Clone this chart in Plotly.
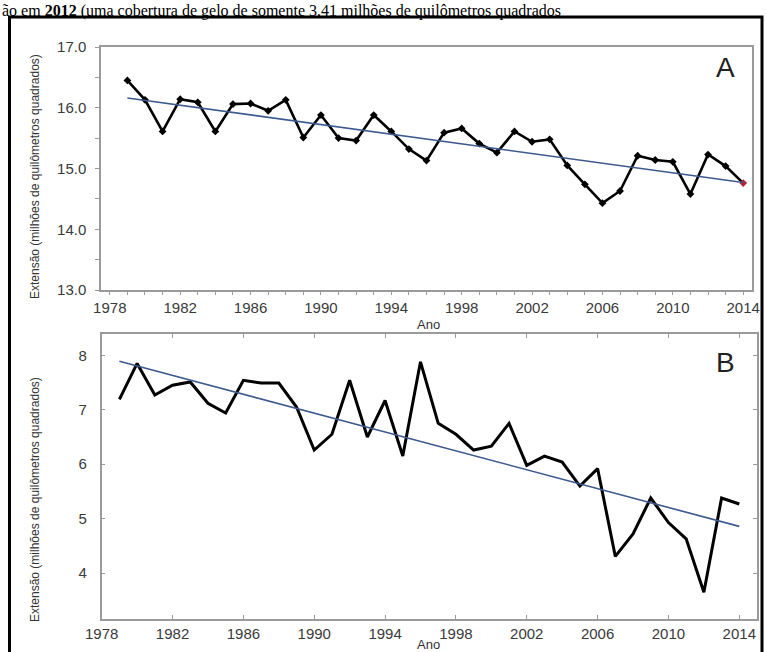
import plotly.graph_objects as go

years = list(range(1979, 2015))

# Panel A (annual maximum extent)
extent_a = [16.45, 16.13, 15.61, 16.14, 16.09, 15.61, 16.06, 16.07, 15.95, 16.13,
            15.51, 15.88, 15.50, 15.46, 15.88, 15.61, 15.32, 15.13, 15.59, 15.66,
            15.41, 15.26, 15.61, 15.44, 15.48, 15.05, 14.74, 14.43, 14.63, 15.21,
            15.14, 15.11, 14.58, 15.23, 15.04, 14.76]
trend_a_years = [1979, 2014]
trend_a_vals = [16.16, 14.77]

# Panel B (annual minimum extent)
extent_b = [7.19, 7.85, 7.27, 7.45, 7.51, 7.12, 6.94, 7.54, 7.49, 7.49,
            7.05, 6.26, 6.55, 7.54, 6.50, 7.17, 6.15, 7.88, 6.75, 6.55,
            6.26, 6.33, 6.75, 5.98, 6.15, 6.04, 5.60, 5.92, 4.31, 4.72,
            5.38, 4.93, 4.63, 3.65, 5.38, 5.27]
trend_b_years = [1979, 2014]
trend_b_vals = [7.89, 4.86]

x_ticks = list(range(1978, 2015, 4))

W, H = 766, 652
def px(x): return x / W
def py(y): return 1 - y / H

TICKFONT = dict(family="Liberation Sans, Arial, sans-serif", size=15, color="#3a3a3a")
AXCOL = "#9a9a9a"
TREND = "#3d5a8f"

fig = go.Figure()

fig.add_trace(go.Scatter(x=years, y=extent_a, mode="lines+markers",
                         line=dict(color="black", width=2.6),
                         marker=dict(symbol="diamond", size=6, color=["black"] * (len(years) - 1) + ["#b0243a"]),
                         xaxis="x", yaxis="y", showlegend=False))
fig.add_trace(go.Scatter(x=trend_a_years, y=trend_a_vals, mode="lines",
                         line=dict(color=TREND, width=1.6),
                         xaxis="x", yaxis="y", showlegend=False))

fig.add_trace(go.Scatter(x=years, y=extent_b, mode="lines",
                         line=dict(color="black", width=3),
                         xaxis="x2", yaxis="y2", showlegend=False))
fig.add_trace(go.Scatter(x=trend_b_years, y=trend_b_vals, mode="lines",
                         line=dict(color=TREND, width=1.6),
                         xaxis="x2", yaxis="y2", showlegend=False))

fig.update_layout(
    width=W, height=H,
    margin=dict(l=0, r=0, t=0, b=0, pad=0, autoexpand=False),
    paper_bgcolor="white", plot_bgcolor="white",
    xaxis=dict(domain=[px(101), px(752)], anchor="y", range=[1977.5, 2014.5], automargin=False,
               tickvals=x_ticks, ticks="outside", ticklen=3, tickcolor=AXCOL,
               minor=dict(dtick=1, ticks="outside", ticklen=3, tickcolor=AXCOL),
               showline=True, linecolor=AXCOL, linewidth=1.5, mirror=True,
               showgrid=False, zeroline=False, tickfont=TICKFONT),
    yaxis=dict(domain=[py(290), py(47)], anchor="x", range=[13, 17], automargin=False,
               dtick=1, tickformat=".1f", ticks="outside", ticklen=4, tickcolor=AXCOL,
               minor=dict(dtick=0.5, ticks="outside", ticklen=4, tickcolor=AXCOL),
               showline=True, linecolor=AXCOL, linewidth=1.5, mirror=True,
               ticklabelstandoff=6,
               showgrid=False, zeroline=False, tickfont=TICKFONT),
    xaxis2=dict(domain=[px(101.7), px(757)], anchor="y2", range=[1978, 2015], automargin=False,
                tickvals=x_ticks, ticks="inside", ticklen=4, tickcolor=AXCOL,
                showline=True, linecolor=AXCOL, linewidth=1.5, mirror="ticks",
                showgrid=False, zeroline=False, tickfont=TICKFONT),
    yaxis2=dict(domain=[py(619), py(334)], anchor="x2", range=[3.16, 8.39], automargin=False,
                dtick=1, ticks="inside", ticklen=4, tickcolor=AXCOL,
                showline=True, linecolor=AXCOL, linewidth=1.5, mirror="ticks",
                ticklabelstandoff=10,
                showgrid=False, zeroline=False, tickfont=TICKFONT),
)

TITLEFONT = dict(family="Liberation Sans, Arial, sans-serif", size=12, color="#333")
ann = []
def add(text, x, y, font, **kw):
    d = dict(text=text, x=px(x), y=py(y), xref="paper", yref="paper", showarrow=False,
             xanchor="center", yanchor="middle", font=font)
    d.update(kw)
    ann.append(d)

add("Extensão (milhões de quilômetros quadrados)", 35, 177, TITLEFONT, textangle=-90)
add("Extensão (milhões de quilômetros quadrados)", 35, 500, TITLEFONT, textangle=-90)
add("Ano", 428, 324, dict(family="Liberation Sans, Arial", size=13, color="#333"))
add("Ano", 428, 644, dict(family="Liberation Sans, Arial", size=13, color="#333"))
add("A", 725, 68, dict(family="Liberation Sans, Arial", size=28, color="#222"))
add("B", 725, 362, dict(family="Liberation Sans, Arial", size=28, color="#222"))
ann.append(dict(text="ão em <b>2012</b> (uma cobertura de gelo de somente 3,41 milhões de quilômetros quadrados",
                x=0, y=1, xref="paper", yref="paper", xanchor="left", yanchor="top",
                showarrow=False, font=dict(family="Liberation Serif, Times New Roman, serif", size=16, color="black")))
fig.update_layout(annotations=ann)

fig.add_shape(type="rect", xref="paper", yref="paper",
              x0=px(9.5), x1=px(762), y0=py(670), y1=py(17),
              line=dict(color="black", width=3), layer="below")

fig.write_html("out.html", config={"displayModeBar": False},
               post_script="document.body.style.margin='0';document.body.style.overflow='hidden';")
